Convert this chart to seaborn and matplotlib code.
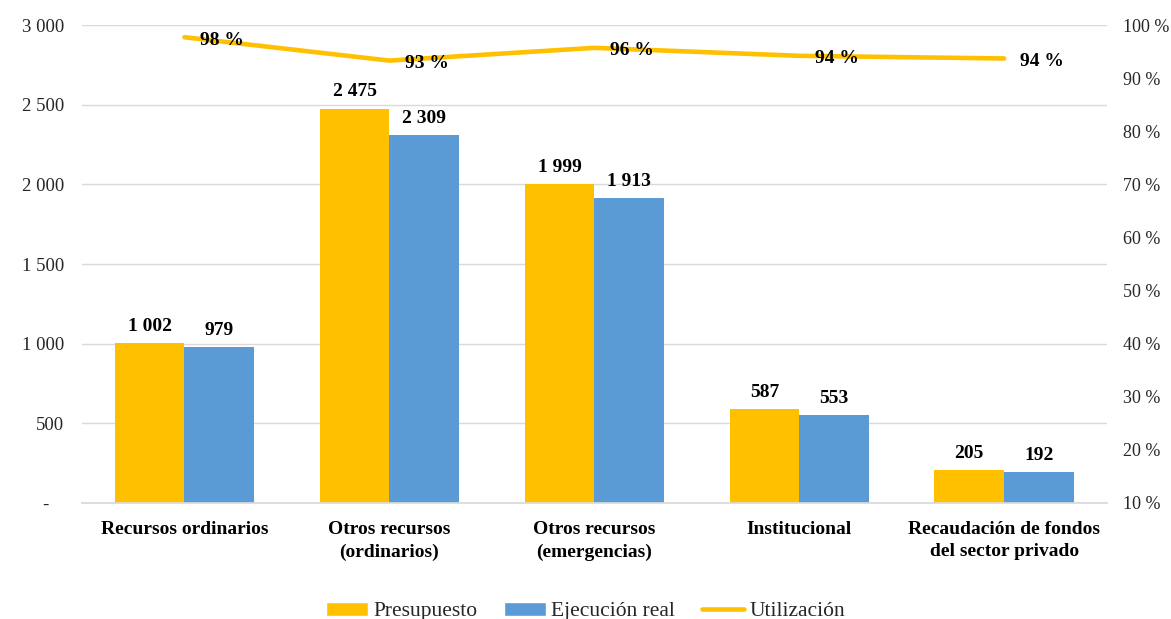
import matplotlib
matplotlib.use("Agg")
import matplotlib.pyplot as plt
from matplotlib.patches import Patch
from matplotlib.lines import Line2D
import seaborn as sns
import numpy as np
import pandas as pd

categorias = ["Recursos ordinarios", "Otros recursos\n(ordinarios)", "Otros recursos\n(emergencias)",
              "Institucional", "Recaudación de fondos\ndel sector privado"]
presupuesto = [1002, 2475, 1999, 587, 205]
ejecucion = [979, 2309, 1913, 553, 192]
utilizacion = [97.7, 93.3, 95.7, 94.2, 93.7]
series = ["Presupuesto", "Ejecución real"]

oro = "#FFC000"
azul = "#5B9BD5"

sns.set_theme(style="white")
plt.rcParams["font.family"] = ["Liberation Serif", "DejaVu Serif"]

df = pd.DataFrame({
    "cat": categorias * 2,
    "valor": presupuesto + ejecucion,
    "serie": [series[0]] * 5 + [series[1]] * 5,
})

fig = plt.figure(figsize=(11.71, 6.19), dpi=100)
ax = fig.add_axes([0.070, 0.1874, 0.875, 0.7722])

sns.barplot(data=df, x="cat", y="valor", hue="serie", palette=[oro, azul],
            width=0.68, gap=0, saturation=1, linewidth=0, legend=False, ax=ax)

ax.set_xlim(-0.5, 4.5)
ax.set_ylim(0, 3000)
ax.set_yticks(np.arange(0, 3001, 500))
ax.set_yticklabels(["-   "] + [f"{v:,}".replace(",", " ") for v in range(500, 3001, 500)],
                   fontsize=13.5, color="#262626")
ax.yaxis.grid(True, color="#d9d9d9", linewidth=1)
ax.set_axisbelow(True)
ax.set_xlabel("")
ax.set_ylabel("")
for s in ["top", "left", "right"]:
    ax.spines[s].set_visible(False)
ax.spines["bottom"].set_color("#d9d9d9")
ax.tick_params(axis="both", length=0)
ax.tick_params(axis="x", pad=13)
ax.tick_params(axis="y", pad=13)
for t in ax.get_xticklabels():
    t.set_fontweight("bold")
    t.set_fontsize(14)
    t.set_color("black")
    t.set_linespacing(1.4)

for cont, vals in zip(ax.containers, [presupuesto, ejecucion]):
    ax.bar_label(cont, labels=[f"{v:,}".replace(",", " ") for v in vals],
                 padding=6, fontsize=14, fontweight="bold", color="black")

ax2 = ax.twinx()
sns.lineplot(x=np.arange(len(categorias)), y=utilizacion, ax=ax2, color=oro,
             linewidth=3.3, solid_capstyle="round")
ax2.set_ylim(10, 100)
ax2.set_yticks(np.arange(10, 101, 10))
ax2.set_yticklabels([f"{v} %" for v in range(10, 101, 10)], fontsize=13, color="#262626")
ax2.tick_params(axis="y", length=0, pad=12)
for s in ["top", "left", "right", "bottom"]:
    ax2.spines[s].set_visible(False)
ax.set_xlim(-0.5, 4.5)

for i, u in enumerate(utilizacion):
    ax2.annotate(f"{round(u)} %", (i, u), xytext=(27, -2), textcoords="offset points",
                 ha="center", va="center", fontsize=14, fontweight="bold", color="black")

handles = [Patch(facecolor=oro, label="Presupuesto"),
           Patch(facecolor=azul, label="Ejecución real"),
           Line2D([0], [0], color=oro, linewidth=3.3, label="Utilización")]
fig.legend(handles=handles, loc="lower center", bbox_to_anchor=(0.5, -0.035), ncol=3,
           frameon=False, fontsize=15.5, handlelength=1.95, handleheight=0.6,
           columnspacing=1.25, handletextpad=0.25)

fig.savefig("out.png", dpi=100)
